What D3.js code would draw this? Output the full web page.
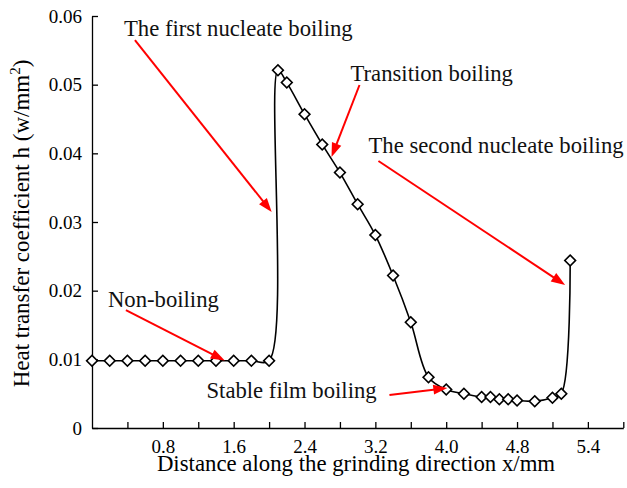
<!DOCTYPE html>
<html>
<head>
<meta charset="utf-8">
<script src="https://cdn.jsdelivr.net/npm/d3@7"></script>
<style>
  body { margin: 0; background: #fff; }
  svg { display: block; font-family: "Liberation Serif", "Times New Roman", serif; }
</style>
</head>
<body>
<svg width="627" height="488"></svg>
<script>
// distance along grinding direction (mm) and heat transfer coefficient (w/mm^2)
const xValues = [0, 0.2, 0.4, 0.6, 0.8, 1.0, 1.2, 1.4, 1.6, 1.8, 2.0,
  2.1, 2.2, 2.4, 2.6, 2.8, 3.0, 3.2, 3.4, 3.6, 3.8, 4.0,
  4.2, 4.4, 4.5, 4.6, 4.7, 4.8, 5.0, 5.2, 5.3, 5.4];
const hValues = [0.0098, 0.0098, 0.0098, 0.0098, 0.0098, 0.0098, 0.0098, 0.0098, 0.0098, 0.0098, 0.0098,
  0.0521, 0.0503, 0.0457, 0.0413, 0.0372, 0.0326, 0.0281, 0.0222, 0.0154, 0.0074, 0.0056,
  0.0050, 0.0045, 0.0045, 0.0042, 0.0042, 0.0040, 0.0039, 0.0044, 0.0050, 0.0244];

const xTickValues = [0.4, 0.8, 1.2, 1.6, 2.0, 2.4, 2.8, 3.2, 3.6, 4.0, 4.4, 4.8, 5.2, 5.6, 6.0];
const xTickLabels = { 0.8: '0.8', 1.6: '1.6', 2.4: '2.4', 3.2: '3.2', 4.0: '4.0', 4.8: '4.8', 5.6: '5.4' };
const yTickValues = [0, 0.01, 0.02, 0.03, 0.04, 0.05, 0.06];
const yTickLabels = ['0', '0.01', '0.02', '0.03', '0.04', '0.05', '0.06'];

// annotation text and arrows, in data units
const noteTexts = ['The first nucleate boiling', 'Transition boiling', 'The second nucleate boiling',
  'Non-boiling', 'Stable film boiling'];
const noteAt   = [[0.361, 0.0571], [2.919, 0.0505], [3.122, 0.04005], [0.180, 0.01766], [1.293, 0.00433]];
const arrowFrom = [[0.485, 0.0565], [3.021, 0.04995], [3.235, 0.03888], [0.383, 0.01718], [3.359, 0.00481]];
const arrowTo   = [[2.029, 0.03146], [2.705, 0.03947], [5.343, 0.02083], [1.499, 0.00983], [4.013, 0.00583]];

const svg = d3.select('svg');
const margin = { left: 92, right: 3, top: 16, bottom: 60 };
const width = +svg.attr('width');
const height = +svg.attr('height');

const x = d3.scaleLinear().domain([0, 6]).range([margin.left, width - margin.right - 0.7]);
const y = d3.scaleLinear().domain([0, 0.06]).range([height - margin.bottom, margin.top]);

const data = xValues.map((d, i) => ({ x: d, h: hValues[i] }));

// axes, ticks pointing inside
const xAxisG = svg.append('g')
  .attr('transform', `translate(0,${y(0)})`)
  .call(d3.axisBottom(x).tickValues(xTickValues).tickSizeInner(-6).tickSizeOuter(0).tickPadding(12)
    .tickFormat(d => xTickLabels[d] || ''));

const yAxisG = svg.append('g')
  .attr('transform', `translate(${x(0)},0)`)
  .call(d3.axisLeft(y).tickValues(yTickValues).tickSizeInner(-6).tickSizeOuter(0).tickPadding(10)
    .tickFormat((d, i) => yTickLabels[i]));

[xAxisG, yAxisG].forEach(g => {
  g.attr('font-family', null).attr('font-size', null);
  g.selectAll('path, line').attr('stroke', '#000').attr('stroke-width', 1.3);
  g.selectAll('text').attr('fill', '#000').style('font-size', '19px');
});

svg.append('text')
  .attr('x', 356).attr('y', 471)
  .attr('text-anchor', 'middle')
  .style('font-size', '22.8px')
  .text('Distance along the grinding direction x/mm');

const yTitle = svg.append('text')
  .attr('transform', 'translate(28.5,223.5) rotate(-90)')
  .attr('text-anchor', 'middle')
  .style('font-size', '23px');
yTitle.append('tspan').text('Heat transfer coefficient h (w/mm');
yTitle.append('tspan').attr('dy', -9).style('font-size', '15px').text('2');
yTitle.append('tspan').attr('dy', 9).text(')');

// smoothed curve through the points
const line = d3.line()
  .x(d => x(d.x))
  .y(d => y(d.h))
  .curve(d3.curveCatmullRom.alpha(0.5));

svg.append('path')
  .datum(data)
  .attr('d', line)
  .attr('fill', 'none')
  .attr('stroke', '#000')
  .attr('stroke-width', 1.6);

const diamond = d3.symbol().type(d3.symbolSquare).size(58);
svg.selectAll('.pt')
  .data(data).enter()
  .append('path')
    .attr('class', 'pt')
    .attr('d', diamond)
    .attr('transform', d => `translate(${x(d.x)},${y(d.h)}) rotate(45)`)
    .attr('fill', '#fff')
    .attr('stroke', '#000')
    .attr('stroke-width', 1.6);

// annotations
noteTexts.forEach((t, i) => {
  svg.append('text')
    .attr('x', x(noteAt[i][0]))
    .attr('y', y(noteAt[i][1]))
    .style('font-size', '22.7px')
    .attr('fill', '#111')
    .text(t);

  const x0 = x(arrowFrom[i][0]), y0 = y(arrowFrom[i][1]);
  const x1 = x(arrowTo[i][0]), y1 = y(arrowTo[i][1]);
  const len = Math.hypot(x1 - x0, y1 - y0);
  const ux = (x1 - x0) / len, uy = (y1 - y0) / len;
  const headL = 14, headW = 5;
  const bx = x1 - ux * headL, by = y1 - uy * headL;

  svg.append('line')
    .attr('x1', x0).attr('y1', y0)
    .attr('x2', bx + ux * 2).attr('y2', by + uy * 2)
    .attr('stroke', '#f00')
    .attr('stroke-width', 2);

  svg.append('path')
    .attr('d', `M${x1},${y1}L${bx - uy * headW},${by + ux * headW}L${bx + uy * headW},${by - ux * headW}Z`)
    .attr('fill', '#f00');
});
</script>
</body>
</html>
